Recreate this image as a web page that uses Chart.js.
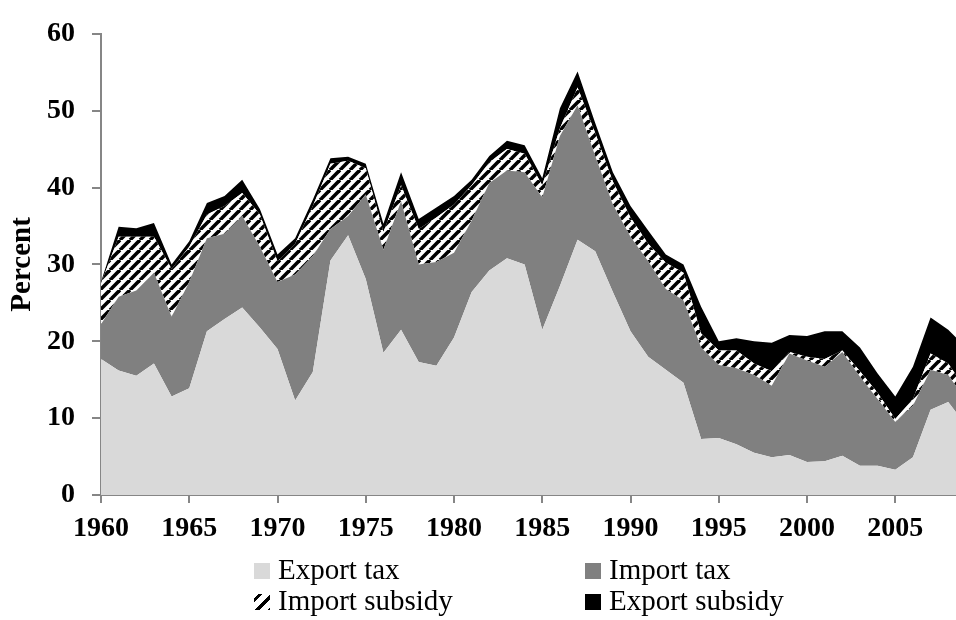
<!DOCTYPE html>
<html>
<head>
<meta charset="utf-8">
<script src="https://cdn.jsdelivr.net/npm/chart.js@4.4.1/dist/chart.umd.min.js"></script>
<style>
  body { margin:0; background:#fff; }
  #wrap { position:relative; width:956px; height:620px; }
  .lg { position:absolute; display:flex; align-items:center; height:36px; font:29px 'Liberation Serif', serif; color:#000; white-space:nowrap; }
  .lg i { display:inline-block; width:16px; height:16px; margin-right:8px; position:relative; top:2px; }
</style>
</head>
<body>
<div id="wrap">
  <canvas id="taxChart" width="956" height="620"></canvas>
  <div id="legend"></div>
</div>
<script>
// values (percent)
const years = [1960,1961,1962,1963,1964,1965,1966,1967,1968,1969,
               1970,1971,1972,1973,1974,1975,1976,1977,1978,1979,
               1980,1981,1982,1983,1984,1985,1986,1987,1988,1989,
               1990,1991,1992,1993,1994,1995,1996,1997,1998,1999,
               2000,2001,2002,2003,2004,2005,2006,2007,2008,2009]
const exportTax = [17.7,16.2,15.5,17.1,12.8,13.9,21.3,22.9,24.4,21.8,
                   19.0,12.3,16.0,30.5,33.8,28.1,18.5,21.5,17.3,16.8,
                   20.5,26.4,29.2,30.8,30.0,21.5,27.2,33.2,31.7,26.4,
                   21.3,18.0,16.3,14.6,7.3,7.4,6.6,5.5,4.9,5.2,
                   4.3,4.4,5.1,3.8,3.8,3.3,4.9,11.1,12.1,9.1]
const importTax = [4.5,9.6,11.1,11.8,10.4,13.8,12.1,11.1,11.9,10.5,
                   8.7,16.4,15.1,4.1,2.5,11.0,13.4,16.7,12.7,13.5,
                   11.0,9.3,11.4,11.4,12.0,17.2,19.5,17.5,12.4,11.4,
                   12.3,12.4,10.5,10.7,11.9,9.5,9.9,10.1,9.3,13.2,
                   13.2,12.3,13.5,11.6,8.7,6.2,6.7,5.2,3.5,3.3]
const importSubsidy = [5.3,7.8,7.0,4.7,6.2,4.6,3.1,3.6,3.0,4.2,
                       2.7,4.0,6.5,8.5,7.2,3.4,2.3,2.1,4.6,5.8,
                       6.3,4.6,2.7,2.8,2.4,1.6,1.0,2.3,3.0,3.0,
                       2.5,2.3,3.4,3.6,1.8,1.9,2.3,1.5,1.9,0.2,
                       0.5,1.0,0.2,0.7,0.8,0.4,0.9,2.1,1.5,1.3]
const exportSubsidy = [0.2,1.3,1.1,1.8,0.6,0.7,1.5,1.3,1.7,0.7,
                       0.9,0.7,0.8,0.7,0.5,0.6,1.1,1.7,1.3,1.3,
                       1.1,0.7,0.8,1.1,1.1,0.9,2.6,2.1,1.3,1.2,
                       1.5,1.7,1.1,1.1,3.5,1.2,1.6,2.9,3.7,2.2,
                       2.7,3.6,2.5,3.1,2.5,2.9,4.2,4.7,4.4,5.5]
const seriesNames = ['Export tax','Import tax','Import subsidy','Export subsidy']
const xTickYears = [1960,1965,1970,1975,1980,1985,1990,1995,2000,2005]

// diagonal hatch like the excel pattern fill
const hatch = (()=>{
  const c = document.createElement('canvas')
  c.width = c.height = 10
  const g = c.getContext('2d')
  g.fillStyle = '#fff'
  g.fillRect(0,0,10,10)
  g.strokeStyle = '#000'
  g.lineWidth = 3.6
  for (const o of [-10,0,10]) {
    g.beginPath(); g.moveTo(o,10); g.lineTo(o+10,0); g.stroke()
  }
  return g.createPattern(c,'repeat')
})()

const fills = ['#d9d9d9','#808080',hatch,'#000000']
const swatches = ['#d9d9d9','#808080','repeating-linear-gradient(135deg,#fff 0 3px,#000 3px 6px,#fff 6px 9px)','#000']
const axisGrey = '#868686'

const toPts = arr => arr.map((v,i)=>({x:years[i],y:v}))
const seriesData = [exportTax,importTax,importSubsidy,exportSubsidy]

Chart.defaults.font.family = "'Liberation Serif', serif"
Chart.defaults.color = '#000'

const ctx = document.getElementById('taxChart').getContext('2d')
const taxChart = new Chart(ctx, {
  type: 'line',
  data: {
    datasets: seriesData.map((d,i)=>({
      label: seriesNames[i],
      data: toPts(d),
      backgroundColor: fills[i],
      borderWidth: 0,
      pointRadius: 0,
      tension: 0,
      fill: i===0 ? 'origin' : '-1'
    }))
  },
  options: {
    responsive: false,
    animation: false,
    layout: { padding: { top: 22, right: 0, left: 0, bottom: 0 } },
    plugins: { legend: { display: false }, tooltip: { enabled: false } },
    scales: {
      x: {
        type: 'linear',
        min: 1960,
        max: 2008.44,
        afterBuildTicks: axis => { axis.ticks = xTickYears.map(v => ({value: v})) },
        afterFit: axis => { axis.height = 125 },
        ticks: { font: { size: 28, weight: 'bold' }, padding: 9, maxRotation: 0,
                 callback: v => String(v) },
        grid: { drawOnChartArea: false, tickLength: 8, color: axisGrey, lineWidth: 2 },
        border: { color: axisGrey, width: 2 }
      },
      y: {
        stacked: true,
        min: 0,
        max: 60,
        afterFit: axis => { axis.width = 101 },
        ticks: { stepSize: 10, font: { size: 28, weight: 'bold' }, padding: 17 },
        grid: { drawOnChartArea: false, tickLength: 9, color: axisGrey, lineWidth: 2 },
        border: { color: axisGrey, width: 2 },
        title: { display: true, text: 'Percent', font: { size: 29, weight: 'bold' }, padding: { top: 5.5, bottom: 0 } }
      }
    }
  }
})

// two-column legend under the axis
const legendPos = [[254,551],[585,551],[254,582],[585,582]]
const legend = document.getElementById('legend')
seriesNames.forEach((name,i)=>{
  const el = document.createElement('div')
  el.className = 'lg'
  el.style.left = legendPos[i][0]+'px'
  el.style.top = legendPos[i][1]+'px'
  el.innerHTML = '<i style="background:'+swatches[i]+'"></i>'+name
  legend.appendChild(el)
})
</script>
</body>
</html>
